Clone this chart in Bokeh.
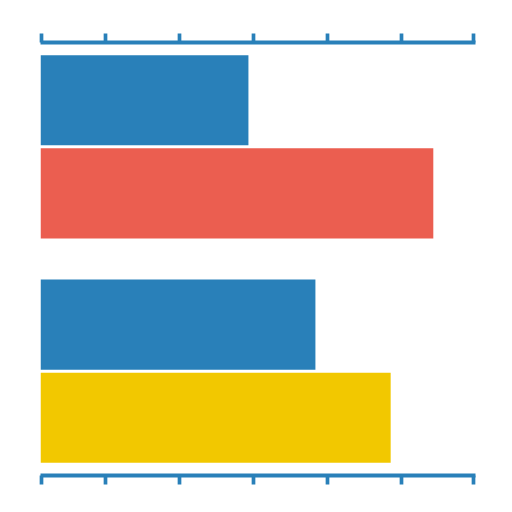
from bokeh.plotting import figure
from bokeh.models import FactorRange, FixedTicker, LinearAxis, ColumnDataSource, Range1d, CustomJSTickFormatter
from bokeh.embed import file_html
from bokeh.resources import INLINE

groups = ["A", "A", "B", "B"]
members = ["x", "y", "x", "y"]
values = [47.8, 90.3, 63.2, 80.5]
colors = ["#2980b9", "#eb5e50", "#2980b9", "#f2c800"]
tick_values = [0.2, 15, 32, 49, 66, 83, 99.5]

src = ColumnDataSource(dict(
    y=[(groups[i], members[i]) for i in range(4)],
    right=values,
    color=colors,
))

yr = FactorRange(factors=[("B", "y"), ("B", "x"), ("A", "y"), ("A", "x")],
                 group_padding=0.41, factor_padding=0.0,
                 range_padding=0.12, range_padding_units="absolute")

p = figure(width=504, height=504, y_range=yr, x_range=Range1d(0, 100),
           output_backend="svg", toolbar_location=None,
           x_axis_location=None, y_axis_location=None,
           min_border_left=40, min_border_right=29,
           min_border_top=42, min_border_bottom=29)
p.hbar(y="y", left=0, right="right", height=0.968, color="color",
       line_color=None, source=src)

for loc in ("above", "below"):
    ax = LinearAxis(ticker=FixedTicker(ticks=tick_values),
                    formatter=CustomJSTickFormatter(code="return ''"))
    ax.axis_line_color = "#2980b9"
    ax.axis_line_width = 4
    ax.major_tick_line_color = "#2980b9"
    ax.major_tick_line_width = 3.7
    ax.major_tick_out = 9
    ax.major_tick_in = 0
    ax.minor_tick_line_color = None
    ax.major_label_standoff = 0
    p.add_layout(ax, loc)

p.xgrid.visible = False
p.ygrid.visible = False
p.outline_line_color = None
p.background_fill_color = "white"
p.border_fill_color = "white"

open("out.html", "w").write(file_html(p, INLINE))
